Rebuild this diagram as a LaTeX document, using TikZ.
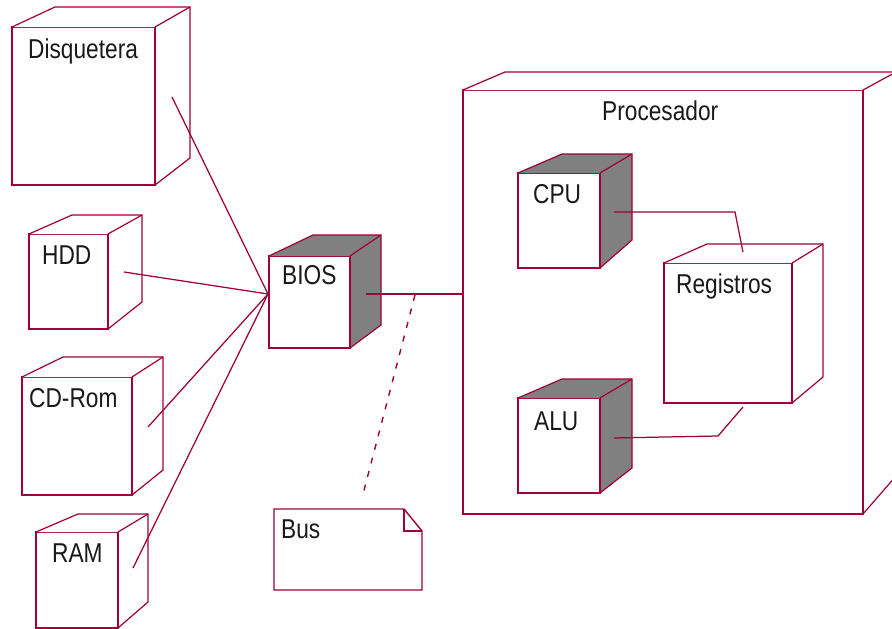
\documentclass[tikz,border=0pt]{standalone}
\usepackage{fontspec}
\setmainfont{Liberation Sans}
\usetikzlibrary{calc}
\definecolor{edgecol}{RGB}{160,0,52}
\definecolor{cubegray}{RGB}{128,128,128}
\definecolor{txtcol}{RGB}{25,25,25}
\tikzset{
  front/.style={draw=edgecol, line width=1.4pt, fill=white, inner sep=0pt, outer sep=0pt, anchor=north west},
  backedge/.style={draw=edgecol, line width=1.2pt, line join=miter},
  thickedge/.style={draw=edgecol, line width=2.8pt},
  conn/.style={draw=edgecol, line width=1.25pt},
  busdash/.style={draw=edgecol, line width=1.4pt, dash pattern=on 6pt off 8pt},
  lbl/.style={anchor=base west, inner sep=0pt, text=txtcol, font=\fontsize{22.7}{26}\selectfont}
}
% #1 name, #2 dx left, #3 dx right, #4 dy top, #5 dy bottom, #6 fill
\newcommand\cubeback[6]{%
  \path[fill=#6] (#1.north west) -- ($(#1.north west)+(#2,#4)$) -- ($(#1.north east)+(#3,#4)$) -- ($(#1.south east)+(#3,#5)$) -- (#1.south east) -- (#1.north east) -- cycle;
  \draw[backedge] (#1.north west) -- ($(#1.north west)+(#2,#4)$) -- ($(#1.north east)+(#3,#4)$) -- ($(#1.south east)+(#3,#5)$) -- (#1.south east);
  \draw[backedge] (#1.north east) -- ($(#1.north east)+(#3,#4)$);
  \draw[thickedge] (#1.north east) -- (#1.south east);
}
\newcommand\lbltext[1]{\scalebox{1}[1.2]{#1}}
\begin{document}
\begin{tikzpicture}[x=1pt,y=-1pt]
\path[use as bounding box, clip] (0,0) rectangle (892,629);
\fill[white] (0,0) rectangle (892,629);

% Procesador
\node[front, minimum width=400pt, minimum height=424pt] (proc) at (463,90) {};
\cubeback{proc}{42}{33}{-18}{-38}{white}
\node[lbl] (proc-t) at (602,120) {\lbltext{Procesador}};

% CPU
\node[front, minimum width=82pt, minimum height=95pt] (cpu) at (518,173) {};
\cubeback{cpu}{44}{32}{-19}{-28}{cubegray}
\node[lbl] (cpu-t) at (533,203) {\lbltext{CPU}};

% Registros
\node[front, minimum width=128pt, minimum height=140pt] (reg) at (664,263) {};
\cubeback{reg}{43}{31}{-19}{-26}{white}
\node[lbl] (reg-t) at (676,293) {\lbltext{Registros}};

% ALU
\node[front, minimum width=82pt, minimum height=95pt] (alu) at (518,398) {};
\cubeback{alu}{44}{32}{-19}{-25}{cubegray}
\node[lbl] (alu-t) at (534,430) {\lbltext{ALU}};

% Disquetera
\node[front, minimum width=143pt, minimum height=158pt] (disq) at (12,27) {};
\cubeback{disq}{43}{35}{-20}{-27}{white}
\node[lbl] (disq-t) at (28,58) {\lbltext{Disquetera}};

% HDD
\node[front, minimum width=79pt, minimum height=95pt] (hdd) at (29,234) {};
\cubeback{hdd}{43}{34}{-19}{-27}{white}
\node[lbl] (hdd-t) at (42,264) {\lbltext{HDD}};

% CD-Rom
\node[front, minimum width=110pt, minimum height=118pt] (cdrom) at (22,377) {};
\cubeback{cdrom}{41}{31}{-20}{-25}{white}
\node[lbl] (cdrom-t) at (29,407) {\lbltext{CD-Rom}};

% RAM
\node[front, minimum width=82pt, minimum height=96pt] (ram) at (36,532) {};
\cubeback{ram}{42}{30}{-18}{-26}{white}
\node[lbl] (ram-t) at (52,562) {\lbltext{RAM}};

% BIOS
\node[front, minimum width=81pt, minimum height=92pt] (bios) at (269,256) {};
\cubeback{bios}{44}{31}{-21}{-23}{cubegray}
\node[lbl] (bios-t) at (282,284) {\lbltext{BIOS}};

% Bus note
\node[inner sep=0pt, outer sep=0pt, minimum width=148pt, minimum height=81pt, anchor=north west] (bus) at (274,509) {};
\draw[backedge, line width=1.4pt] (bus.north west) -- ($(bus.north east)+(-18,0)$) -- ($(bus.north east)+(0,22)$) -- (bus.south east) -- (bus.south west) -- cycle;
\draw[backedge] ($(bus.north east)+(-18,0)$) -- ($(bus.north east)+(-18,22)$) -- ($(bus.north east)+(0,22)$);
\node[lbl] (bus-t) at (281,538) {\lbltext{Bus}};

% connector end points
\coordinate (hub) at (268,294);
\coordinate (disq-c) at (172,97);
\coordinate (hdd-c) at (124,272);
\coordinate (cdrom-c) at (148,427);
\coordinate (ram-c) at (133,568);
\coordinate (bios-c) at (366,294);
\coordinate (proc-in) at (463,294);
\coordinate (bus-j) at (415,295);
\coordinate (bus-c) at (362,498);
\coordinate (cpu-c) at (614,212);
\coordinate (reg-top) at (743,252);
\coordinate (alu-c) at (614,438);
\coordinate (reg-bot) at (743,407);

\draw[conn] (disq-c) -- (hub);
\draw[conn] (hdd-c) -- (hub);
\draw[conn] (cdrom-c) -- (hub);
\draw[conn] (ram-c) -- (hub);
\draw[conn] (bios-c) -- (proc-in);
\draw[busdash] (bus-j) -- (bus-c);
\draw[conn] (cpu-c) -- (735,212) -- (reg-top);
\draw[conn] (alu-c) -- (665,437) -- (718,436) -- (reg-bot);
\end{tikzpicture}
\end{document}
